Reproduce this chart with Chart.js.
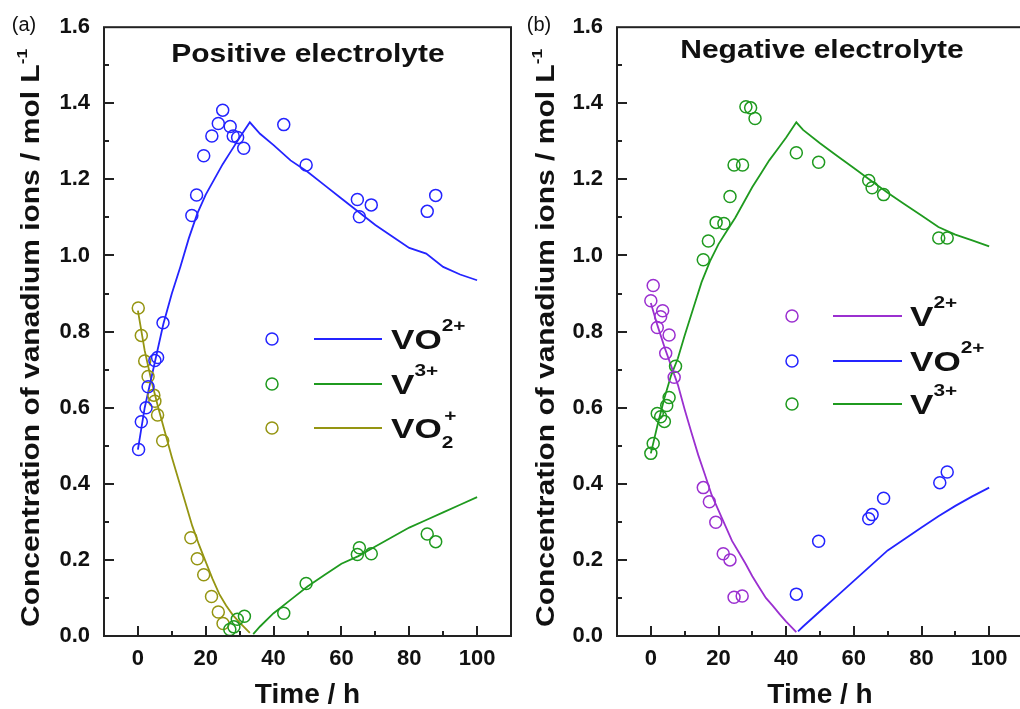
<!DOCTYPE html>
<html>
<head>
<meta charset="utf-8">
<title>Vanadium ion concentrations</title>
<script src="https://cdn.jsdelivr.net/npm/chart.js@4.4.1/dist/chart.umd.min.js"></script>
<style>
  html, body { margin: 0; padding: 0; background: #fff; overflow: hidden; }
  body { width: 1020px; height: 709px; position: relative; }
  canvas { position: absolute; top: 0; }
  #chart-a { left: 0; }
  #chart-b { left: 515px; }
</style>
</head>
<body>
<canvas id="chart-a" width="530" height="709"></canvas>
<canvas id="chart-b" width="560" height="709"></canvas>
<script>
const FONT = "'Liberation Sans', Arial, Helvetica, sans-serif";
const INK = "#111";
const BLUE = "#2424ff", GREEN = "#1f9a1f", OLIVE = "#959512", PURPLE = "#9b30d0";

const X_TICKS = [0, 20, 40, 60, 80, 100];
const Y_TICKS = [0, 0.2, 0.4, 0.6, 0.8, 1.0, 1.2, 1.4, 1.6];

// (a) positive electrolyte, measured
const posTimeVO2 = [0.2, 1.0, 2.4, 3.0, 5.0, 5.8, 7.4, 15.9, 17.3, 19.4, 21.8, 23.7, 25.0, 27.2, 28.1, 29.4, 31.2, 43.0, 49.6, 64.7, 65.3, 68.8, 85.3, 87.8];
const posVO2 = [0.49, 0.563, 0.60, 0.655, 0.724, 0.732, 0.823, 1.105, 1.159, 1.262, 1.314, 1.347, 1.382, 1.339, 1.314, 1.31, 1.282, 1.344, 1.238, 1.147, 1.102, 1.133, 1.116, 1.158];
const posTimeV3 = [27.1, 28.3, 29.3, 31.4, 43.0, 49.6, 64.7, 65.3, 68.8, 85.3, 87.8];
const posV3 = [0.017, 0.024, 0.044, 0.052, 0.06, 0.138, 0.214, 0.232, 0.216, 0.268, 0.248];
const posTimeVO2p = [0.1, 1.0, 2.0, 3.0, 4.7, 5.0, 5.8, 7.3, 15.6, 17.5, 19.4, 21.7, 23.7, 25.1];
const posVO2p = [0.862, 0.79, 0.723, 0.682, 0.633, 0.617, 0.581, 0.513, 0.258, 0.203, 0.161, 0.104, 0.063, 0.033];

// (a) simulated
const posFitTimeVO2 = [0, 2, 4, 5, 7.5, 10, 12.5, 15, 17.5, 20, 22.5, 25, 27.5, 30, 33, 36, 40, 45, 50, 55, 60, 65, 70, 75, 80, 85, 90, 95, 100];
const posFitVO2 = [0.49, 0.60, 0.68, 0.72, 0.82, 0.90, 0.97, 1.045, 1.11, 1.16, 1.20, 1.24, 1.275, 1.31, 1.35, 1.32, 1.29, 1.25, 1.22, 1.185, 1.15, 1.115, 1.08, 1.05, 1.02, 1.005, 0.97, 0.95, 0.935];
const posFitTimeV3 = [34, 36, 40, 45, 50, 55, 60, 65, 70, 75, 80, 85, 90, 95, 100];
const posFitV3 = [0.005, 0.025, 0.06, 0.095, 0.13, 0.16, 0.19, 0.21, 0.235, 0.26, 0.285, 0.305, 0.325, 0.345, 0.365];
const posFitTimeVO2p = [0, 2, 4, 6, 8, 10, 12, 14, 16, 18, 20, 22, 24, 26, 28, 30, 33];
const posFitVO2p = [0.855, 0.75, 0.67, 0.60, 0.535, 0.47, 0.41, 0.35, 0.29, 0.24, 0.195, 0.15, 0.11, 0.08, 0.055, 0.035, 0.008];

// (b) negative electrolyte, measured
const negTimeV2 = [0, 0.7, 1.9, 2.9, 3.5, 4.4, 5.4, 6.9, 15.5, 17.3, 19.2, 21.4, 23.4, 24.6, 27.0];
const negV2 = [0.881, 0.921, 0.811, 0.839, 0.855, 0.743, 0.791, 0.68, 0.39, 0.353, 0.299, 0.216, 0.2, 0.102, 0.105];
const negTimeVO2 = [43.0, 49.6, 64.4, 65.4, 68.8, 85.4, 87.6];
const negVO2 = [0.11, 0.249, 0.308, 0.319, 0.362, 0.403, 0.431];
const negTimeV3 = [0, 0.7, 1.9, 2.9, 4.0, 4.7, 5.4, 7.3, 15.5, 17.0, 19.3, 21.6, 23.4, 24.6, 27.1, 28.1, 29.5, 30.8, 43.0, 49.6, 64.4, 65.4, 68.8, 85.1, 87.6];
const negV3 = [0.48, 0.506, 0.585, 0.576, 0.564, 0.606, 0.627, 0.709, 0.989, 1.038, 1.087, 1.084, 1.155, 1.238, 1.238, 1.391, 1.388, 1.36, 1.27, 1.245, 1.197, 1.178, 1.16, 1.046, 1.046];

// (b) simulated
const negFitTimeV2 = [0, 2, 4, 6, 8, 10, 12, 14, 16, 18, 20, 22, 24, 26, 28, 30, 32, 34, 36, 38, 40, 43];
const negFitV2 = [0.875, 0.815, 0.76, 0.71, 0.66, 0.595, 0.535, 0.476, 0.424, 0.37, 0.33, 0.29, 0.25, 0.22, 0.19, 0.157, 0.128, 0.10, 0.08, 0.058, 0.038, 0.01];
const negFitTimeVO2 = [43.5, 45, 50, 55, 60, 65, 70, 75, 80, 85, 90, 95, 100];
const negFitVO2 = [0.012, 0.025, 0.065, 0.105, 0.145, 0.185, 0.225, 0.255, 0.285, 0.315, 0.342, 0.367, 0.39];
const negFitTimeV3 = [0, 2, 4, 6, 8, 10, 12.5, 15, 17.5, 20, 22.5, 25, 27.5, 30, 32.5, 35, 37.5, 40, 43, 45, 50, 55, 60, 65, 70, 75, 80, 85, 90, 95, 100];
const negFitV3 = [0.48, 0.555, 0.625, 0.685, 0.73, 0.79, 0.86, 0.93, 0.985, 1.03, 1.065, 1.10, 1.14, 1.18, 1.215, 1.25, 1.28, 1.31, 1.35, 1.33, 1.295, 1.262, 1.23, 1.197, 1.165, 1.135, 1.105, 1.075, 1.055, 1.04, 1.024];

const Y_TITLE = [
  { text: "Concentration of vanadium ions / mol L", size: 26 },
  { text: "-1", size: 15, dy: -12 },
];
const sup = (t) => ({ text: t, size: 16, dy: -18 });
const LBL_VO2 = [{ text: "VO", size: 27 }, sup("2+")];
const LBL_V3 = [{ text: "V", size: 27 }, sup("3+")];
const LBL_V2 = [{ text: "V", size: 27 }, sup("2+")];
const LBL_VO2p = [{ text: "VO", size: 27 }, { text: "2", size: 16, dy: 10, advance: false }, { text: "+", size: 16, dy: -17, dx: 2 }];

Chart.defaults.font.family = FONT;
Chart.defaults.color = INK;

function pts(xs, ys) { return xs.map((x, i) => ({ x, y: ys[i] })); }

function marks(color, xs, ys) {
  return { data: pts(xs, ys), borderColor: color, backgroundColor: "rgba(0,0,0,0)", pointRadius: 6, pointBorderWidth: 1.5, showLine: false };
}

function fit(color, xs, ys) {
  return { data: pts(xs, ys), borderColor: color, borderWidth: 1.8, pointRadius: 0, showLine: true, tension: 0, fill: false };
}

function rich(ctx, x, y, parts, opt) {
  let w = 0;
  for (const p of parts) {
    ctx.font = `bold ${p.size}px ${FONT}`;
    if (p.advance !== false) w += ctx.measureText(p.text).width;
  }
  const sx = opt.width ? opt.width / w : opt.sx;
  ctx.save();
  ctx.translate(x, y);
  ctx.scale(sx, 1);
  ctx.textAlign = "left";
  ctx.textBaseline = "alphabetic";
  let cx = opt.align === "center" ? -w / 2 : 0;
  for (const p of parts) {
    ctx.font = `bold ${p.size}px ${FONT}`;
    ctx.fillText(p.text, cx + (p.dx || 0), p.dy || 0);
    if (p.advance !== false) cx += ctx.measureText(p.text).width;
  }
  ctx.restore();
}

// frame + inward ticks, like the original plotting program
const frameTicks = {
  id: "frameTicks",
  afterDatasetsDraw(chart) {
    const { ctx, chartArea: a, scales: { x, y } } = chart;
    ctx.save();
    ctx.strokeStyle = "#222";
    ctx.lineWidth = 2;
    ctx.strokeRect(a.left, a.top, a.right - a.left, a.bottom - a.top);
    ctx.beginPath();
    for (let v = 0; v <= 100; v += 10) {
      const px = Math.round(x.getPixelForValue(v));
      ctx.moveTo(px, a.bottom);
      ctx.lineTo(px, a.bottom - (v % 20 ? 5 : 10));
    }
    for (let i = 1; i < 16; i++) {
      const py = Math.round(y.getPixelForValue(i / 10));
      ctx.moveTo(a.left, py);
      ctx.lineTo(a.left + (i % 2 ? 5 : 10), py);
    }
    ctx.stroke();
    ctx.restore();
  },
};

const panelText = {
  id: "panelText",
  afterDraw(chart, args, o) {
    const { ctx } = chart;
    ctx.save();
    ctx.fillStyle = INK;
    ctx.font = `20px ${FONT}`;
    ctx.textAlign = "center";
    ctx.textBaseline = "alphabetic";
    ctx.fillText(o.tag, 24, 31);

    rich(ctx, o.titleX, o.titleY, [{ text: o.title, size: 25 }], { sx: 1.2, align: "center" });

    ctx.save();
    ctx.translate(39, 338);
    ctx.rotate(-Math.PI / 2);
    rich(ctx, 0, 0, Y_TITLE, { width: 578, align: "center" });
    ctx.restore();

    o.legend.forEach((item, i) => {
      const cy = o.rows[i];
      ctx.strokeStyle = item.color;
      ctx.lineWidth = 1.5;
      ctx.beginPath();
      ctx.arc(o.markerX, cy, 6, 0, Math.PI * 2);
      ctx.stroke();
      ctx.lineWidth = 1.8;
      ctx.beginPath();
      ctx.moveTo(o.lineX[0], cy);
      ctx.lineTo(o.lineX[1], cy);
      ctx.stroke();
      rich(ctx, o.textX, cy + 10, item.label, { sx: 1.3 });
    });
    ctx.restore();
  },
};

function makePanel(id, datasets, padRight, axisWidth, text) {
  const tickFont = { family: FONT, size: 22, weight: "bold" };
  return new Chart(document.getElementById(id), {
    type: "scatter",
    data: { datasets },
    options: {
      responsive: false,
      animation: false,
      events: [],
      layout: { padding: { top: 21, right: padRight, left: 0, bottom: 0 } },
      plugins: { legend: { display: false }, tooltip: { enabled: false }, panelText: text },
      scales: {
        x: {
          type: "linear", min: -10, max: 110,
          afterBuildTicks: (s) => { s.ticks = X_TICKS.map((v) => ({ value: v })); },
          afterFit: (s) => { s.height = 73; },
          grid: { display: false, drawTicks: false },
          border: { display: false },
          ticks: { font: tickFont, color: INK, padding: 10, maxRotation: 0 },
          title: { display: true, text: "Time / h", color: INK, padding: 0, font: { family: FONT, size: 28, weight: "bold", lineHeight: 1 } },
        },
        y: {
          type: "linear", min: 0, max: 1.6,
          afterBuildTicks: (s) => { s.ticks = Y_TICKS.map((v) => ({ value: v })); },
          afterFit: (s) => { s.width = axisWidth; },
          grid: { display: false, drawTicks: false },
          border: { display: false },
          ticks: { font: tickFont, color: INK, padding: 14, callback: (v) => Number(v).toFixed(1) },
        },
      },
    },
    plugins: [frameTicks, panelText],
  });
}

makePanel("chart-a", [
  marks(BLUE, posTimeVO2, posVO2),
  marks(GREEN, posTimeV3, posV3),
  marks(OLIVE, posTimeVO2p, posVO2p),
  fit(BLUE, posFitTimeVO2, posFitVO2),
  fit(GREEN, posFitTimeV3, posFitV3),
  fit(OLIVE, posFitTimeVO2p, posFitVO2p),
], 19, 104, {
  tag: "(a)", title: "Positive electrolyte", titleX: 308, titleY: 62,
  markerX: 272, lineX: [314, 382], textX: 391, rows: [339, 384, 428],
  legend: [
    { color: BLUE, label: LBL_VO2 },
    { color: GREEN, label: LBL_V3 },
    { color: OLIVE, label: LBL_VO2p },
  ],
});

makePanel("chart-b", [
  marks(PURPLE, negTimeV2, negV2),
  marks(BLUE, negTimeVO2, negVO2),
  marks(GREEN, negTimeV3, negV3),
  fit(PURPLE, negFitTimeV2, negFitV2),
  fit(BLUE, negFitTimeVO2, negFitVO2),
  fit(GREEN, negFitTimeV3, negFitV3),
], 52, 102, {
  tag: "(b)", title: "Negative electrolyte", titleX: 307, titleY: 58,
  markerX: 277, lineX: [318, 387], textX: 395, rows: [316, 361, 404],
  legend: [
    { color: PURPLE, label: LBL_V2 },
    { color: BLUE, label: LBL_VO2 },
    { color: GREEN, label: LBL_V3 },
  ],
});
</script>
</body>
</html>
